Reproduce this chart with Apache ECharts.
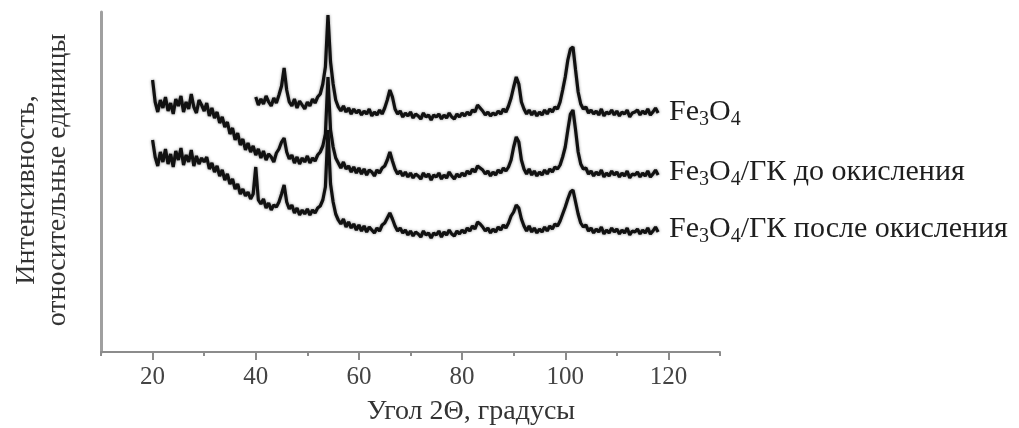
<!DOCTYPE html>
<html>
<head>
<meta charset="utf-8">
<script src="https://cdn.jsdelivr.net/npm/echarts@6/dist/echarts.min.js"></script>
<style>
  html, body { margin: 0; padding: 0; background: #fff; }
  #chart { width: 1019px; height: 428px; }
</style>
</head>
<body>
<div id="chart"></div>
<script>
// 2θ sampling, degrees
const angle = [
  20,20.5,21,21.5,22,22.5,23,23.5,24,24.5, 25,25.5,26,26.5,27,27.5,28,28.5,29,29.5,
  30,30.5,31,31.5,32,32.5,33,33.5,34,34.5, 35,35.5,36,36.5,37,37.5,38,38.5,39,39.5,
  40,40.5,41,41.5,42,42.5,43,43.5,44,44.5, 45,45.5,46,46.5,47,47.5,48,48.5,49,49.5,
  50,50.5,51,51.5,52,52.5,53,53.5,54,54.5, 55,55.5,56,56.5,57,57.5,58,58.5,59,59.5,
  60,60.5,61,61.5,62,62.5,63,63.5,64,64.5, 65,65.5,66,66.5,67,67.5,68,68.5,69,69.5,
  70,70.5,71,71.5,72,72.5,73,73.5,74,74.5, 75,75.5,76,76.5,77,77.5,78,78.5,79,79.5,
  80,80.5,81,81.5,82,82.5,83,83.5,84,84.5, 85,85.5,86,86.5,87,87.5,88,88.5,89,89.5,
  90,90.5,91,91.5,92,92.5,93,93.5,94,94.5, 95,95.5,96,96.5,97,97.5,98,98.5,99,99.5,
  100,100.5,101,101.5,102,102.5,103,103.5,104,104.5, 105,105.5,106,106.5,107,107.5,108,108.5,109,109.5,
  110,110.5,111,111.5,112,112.5,113,113.5,114,114.5, 115,115.5,116,116.5,117,117.5,118
];

// Fe3O4, starts at 40°
const fe3o4 = [
  255,247,253,248,256,250,246,254,249,257, 266,284,262,250,246,253,244,251,247,243,
  250,246,253,249,255,258,268,285,337,290, 268,252,245,241,246,240,244,238,243,239,
  242,237,241,238,243,236,240,237,242,238, 244,252,262,255,243,238,241,235,239,236,
  240,234,238,236,233,239,235,237,232,237, 235,238,233,237,234,239,235,233,238,235,
  239,236,240,237,242,240,247,244,241,237, 240,236,239,237,241,238,243,240,246,254,
  265,275,268,250,243,238,242,237,241,236, 240,237,242,238,243,240,245,243,250,262,
  275,292,303,305,282,260,248,243,245,239, 242,238,241,237,243,236,240,238,242,237,
  241,236,240,238,242,235,239,240,242,237, 241,238,243,237,240,244,239
];

// Fe3O4/ГК до окисления, from 20°
const gkBefore = [
  272,250,240,252,244,255,241,249,238,253, 246,256,240,250,243,258,245,239,252,247,
  241,249,236,244,234,240,229,235,225,230, 218,224,212,219,207,213,202,209,200,206,
  197,203,194,201,192,198,195,190,199,203, 210,214,200,193,197,189,195,188,194,190,
  196,189,194,191,197,200,206,218,275,222, 205,194,189,184,190,183,186,180,185,179,
  184,178,183,177,182,180,176,182,179,184, 186,192,200,191,183,178,181,176,180,175,
  179,174,178,176,173,179,175,178,172,177, 175,179,173,177,174,180,176,173,178,175,
  179,176,181,178,183,180,186,184,182,178, 181,176,180,177,182,179,184,181,185,192,
  205,215,210,192,183,178,183,177,181,176, 180,177,182,178,183,180,185,183,187,195,
  205,222,238,242,222,200,188,183,184,178, 181,176,180,177,182,175,179,176,181,177,
  180,175,179,176,181,174,178,177,180,175, 179,176,181,175,178,182,177
];

// Fe3O4/ГК после окисления, from 20°
const gkAfter = [
  212,195,186,200,190,203,188,198,185,201, 192,204,187,197,190,202,186,196,188,194,
  190,195,183,189,180,186,176,182,172,178, 168,173,163,168,158,163,156,160,153,158,
  185,152,148,153,144,149,142,147,145,150, 158,167,150,143,147,139,144,137,142,138,
  143,137,142,139,144,146,152,165,222,168, 150,138,132,128,133,125,130,124,128,122,
  127,121,126,120,125,122,119,124,121,127, 129,134,139,133,126,121,124,119,122,117,
  121,116,120,118,115,121,117,119,114,119, 117,121,115,120,117,122,118,116,121,118,
  122,119,124,121,126,123,130,128,125,121, 124,119,123,120,125,122,127,124,129,136,
  140,147,144,133,126,121,126,120,124,119, 123,120,125,121,126,123,128,126,131,138,
  145,153,160,162,150,138,129,125,127,121, 124,119,123,120,125,118,122,119,124,120,
  123,118,122,119,124,117,121,120,123,118, 122,119,124,118,121,125,120
];

const majorTicks = [20, 40, 60, 80, 100, 120];
const labelRich = [
  '{a|Fe}{s|3}{a|O}{s|4}',
  '{a|Fe}{s|3}{a|O}{s|4}{a|/ГК до окисления}',
  '{a|Fe}{s|3}{a|O}{s|4}{a|/ГК после окисления}'
];
const labelY = [112, 172, 229];

const serif = "'Liberation Serif', 'DejaVu Serif', serif";

function pairs(xs, ys) {
  return ys.map(function (y, i) { return [xs[i], y]; });
}

var myChart = echarts.init(document.getElementById('chart'));

var lineStyle = { color: '#111', width: 3.2, shadowBlur: 3, shadowColor: 'rgba(0,0,0,0.45)' };

var option = {
  animation: false,
  grid: { left: 101, right: 299, top: 12, bottom: 76 },
  xAxis: [
    {
      type: 'value',
      min: 10,
      max: 130,
      interval: 10,
      axisLine: { lineStyle: { color: '#8c8c8c', width: 2 } },
      axisTick: { length: 4, lineStyle: { color: '#8c8c8c', width: 2 } },
      axisLabel: {
        margin: 13,
        color: '#444',
        fontFamily: serif,
        fontSize: 25,
        formatter: function (v) { return majorTicks.indexOf(v) >= 0 ? String(v) : ''; }
      },
      splitLine: { show: false }
    },
    {
      type: 'value',
      min: 10,
      max: 130,
      position: 'bottom',
      axisLine: { show: false },
      axisTick: { length: 8, customValues: majorTicks, lineStyle: { color: '#8c8c8c', width: 2 } },
      axisLabel: { show: false },
      splitLine: { show: false }
    }
  ],
  yAxis: {
    type: 'value',
    min: 0,
    max: 340,
    axisLine: { show: true, lineStyle: { color: '#a0a0a0', width: 3 } },
    axisTick: { show: false },
    axisLabel: { show: false },
    splitLine: { show: false }
  },
  series: [
    { name: 'Fe3O4', type: 'line', symbol: 'none', data: pairs(angle.slice(40), fe3o4), lineStyle: lineStyle },
    { name: 'Fe3O4/ГК до окисления', type: 'line', symbol: 'none', data: pairs(angle, gkBefore), lineStyle: lineStyle },
    { name: 'Fe3O4/ГК после окисления', type: 'line', symbol: 'none', data: pairs(angle, gkAfter), lineStyle: lineStyle }
  ],
  graphic: labelRich.map(function (t, i) {
    return {
      type: 'text',
      x: 669,
      y: labelY[i],
      style: {
        text: t,
        verticalAlign: 'middle',
        rich: {
          a: { fontFamily: serif, fontSize: 30, fill: '#1e1e1e' },
          s: { fontFamily: serif, fontSize: 20, fill: '#1e1e1e', padding: [15, 0, 0, 0] }
        }
      }
    };
  }).concat([
    {
      type: 'text', x: 27, y: 190, rotation: Math.PI / 2,
      style: { text: 'Интенсивность,', align: 'center', verticalAlign: 'middle', fontFamily: serif, fontSize: 28, fill: '#333' }
    },
    {
      type: 'text', x: 58, y: 180, rotation: Math.PI / 2,
      style: { text: 'относительные единицы', align: 'center', verticalAlign: 'middle', fontFamily: serif, fontSize: 28, fill: '#333' }
    },
    {
      type: 'text', x: 471, y: 412,
      style: { text: 'Угол 2Θ, градусы', align: 'center', verticalAlign: 'middle', fontFamily: serif, fontSize: 28, fill: '#333' }
    }
  ])
};

myChart.setOption(option);
window.addEventListener('resize', myChart.resize);
</script>
</body>
</html>
